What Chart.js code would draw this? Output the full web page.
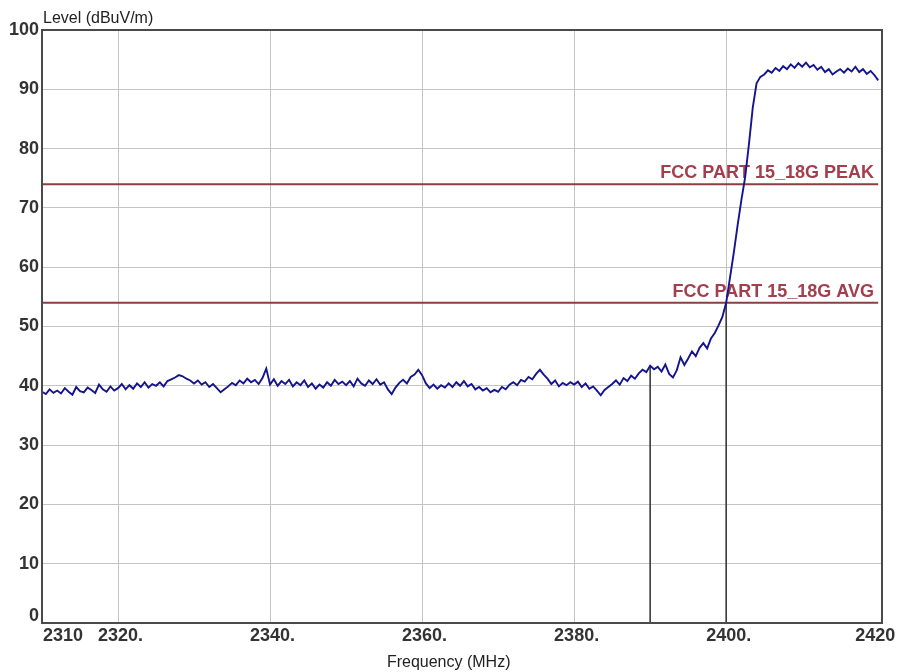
<!DOCTYPE html>
<html>
<head>
<meta charset="utf-8">
<script src="https://cdn.jsdelivr.net/npm/chart.js@4/dist/chart.umd.min.js"></script>
<style>
html,body{margin:0;padding:0;background:#fff;}
#c{display:block;}
</style>
</head>
<body>
<canvas id="c" width="898" height="672"></canvas>
<script>
// ---- data ----
const freqStart = 2310;
const freqStep = 0.5;
const levels = [
  // 2310 - 2319.5
  39.0, 38.6, 39.4, 38.8, 39.2, 38.7, 39.6, 39.0, 38.5, 39.8, 39.1, 38.9, 39.7, 39.3, 38.8, 40.2, 39.4, 39.0, 39.9, 39.2,
  // 2320 - 2329.5
  39.6, 40.3, 39.4, 40.1, 39.5, 40.4, 39.8, 40.6, 39.7, 40.3, 40.0, 40.6, 39.9, 40.8, 41.1, 41.4, 41.8, 41.6, 41.2, 40.9,
  // 2330 - 2339.5
  40.4, 40.9, 40.2, 40.6, 39.8, 40.3, 39.6, 38.9, 39.4, 39.9, 40.5, 40.1, 40.9, 40.4, 41.2, 40.6, 41.0, 40.3, 41.3, 42.9,
  // 2340 - 2349.5
  40.2, 41.1, 40.0, 40.8, 40.3, 41.0, 39.9, 40.6, 40.1, 40.9, 39.8, 40.4, 39.5, 40.2, 39.7, 40.6, 40.0, 41.0, 40.3, 40.7,
  // 2350 - 2359.5
  40.1, 40.8, 39.9, 41.2, 40.4, 40.0, 40.9, 40.3, 41.1, 40.2, 40.6, 39.4, 38.6, 39.7, 40.5, 41.0, 40.4, 41.5, 41.9, 42.7,
  // 2360 - 2369.5
  41.8, 40.4, 39.6, 40.2, 39.5, 40.1, 39.7, 40.4, 39.8, 40.6, 40.0, 40.8, 39.9, 40.3, 39.4, 39.8, 39.2, 39.6, 38.9, 39.3,
  // 2370 - 2379.5
  39.0, 39.8, 39.4, 40.2, 40.6, 40.1, 41.0, 40.7, 41.5, 41.1, 42.0, 42.7, 41.9, 41.2, 40.3, 40.9, 39.9, 40.5, 40.1, 40.6,
  // 2380 - 2389.5
  40.2, 40.7, 39.8, 40.4, 39.5, 39.9, 39.2, 38.4, 39.3, 39.8, 40.3, 40.9, 40.2, 41.3, 40.8, 41.7, 41.2, 42.1, 42.7, 42.3,
  // 2390 - 2399.5
  43.4, 42.8, 43.2, 42.4, 43.6, 42.0, 41.4, 42.6, 44.8, 43.5, 44.6, 45.8, 45.0, 46.4, 47.2, 46.3, 48.0, 48.9, 50.2, 51.6,
  // 2400 - 2409.5
  54.0, 58.2, 62.4, 67.0, 71.3, 75.2, 80.8, 86.9, 91.0, 92.1, 92.5, 93.2, 92.8, 93.6, 93.1, 93.9, 93.4, 94.2, 93.6, 94.4,
  // 2410 - 2419.5
  93.8, 94.5, 93.7, 94.1, 93.3, 93.8, 92.9, 93.4, 92.5, 93.0, 93.4, 92.8, 93.5, 93.0, 93.8, 92.9, 93.4, 92.6, 93.1, 92.4,
  // 2420
  91.5
];
const limitNames = ['FCC PART 15_18G PEAK', 'FCC PART 15_18G AVG'];
const limitLevels = [74, 54];
const markerFreqs = [2390, 2400];
const markerLevels = [43.4, 54.0];
const xTickValues = [2310, 2320, 2340, 2360, 2380, 2400, 2420];
const xTickLabels = ['2310', '2320.', '2340.', '2360.', '2380.', '2400.', '2420'];
const yTickValues = [0, 10, 20, 30, 40, 50, 60, 70, 80, 90, 100];
const xRange = [2310, 2420.5];
const yRange = [0, 100];
const xTitle = 'Frequency (MHz)';
const yTitle = 'Level (dBuV/m)';

// ---- datasets ----
const tracePoints = levels.map((v, i) => ({x: freqStart + i * freqStep, y: v}));
const datasets = [];
datasets.push({
  data: tracePoints, borderColor: '#14148c', borderWidth: 1.9,
  pointRadius: 0, tension: 0, order: 1
});
limitLevels.forEach((lv) => {
  datasets.push({
    data: [{x: xRange[0], y: lv}, {x: 2420, y: lv}], borderColor: '#8a3f42',
    borderWidth: 2, pointRadius: 0, order: 2
  });
});
markerFreqs.forEach((f, i) => {
  datasets.push({
    data: [{x: f, y: 0}, {x: f, y: markerLevels[i]}], borderColor: '#3a3a3a',
    borderWidth: 1.6, pointRadius: 0, order: 3
  });
});

const FONT = 'bold 18px "Liberation Sans", Arial, sans-serif';
const TXT = '#333333';

const drawPlugin = {
  id: 'deco',
  beforeDatasetsDraw(chart) {
    const ctx = chart.ctx, ys = chart.scales.y;
    ctx.save();
    ctx.font = FONT;
    ctx.fillStyle = '#a33e4c';
    ctx.textAlign = 'right';
    ctx.textBaseline = 'alphabetic';
    limitLevels.forEach((lv, i) => {
      ctx.fillText(limitNames[i], chart.chartArea.right - 8, ys.getPixelForValue(lv) - 6);
    });
    ctx.restore();
  },
  afterDraw(chart) {
    const ctx = chart.ctx, xs = chart.scales.x, ys = chart.scales.y, ca = chart.chartArea;
    ctx.save();
    // frame
    ctx.strokeStyle = '#4a4a4a';
    ctx.lineWidth = 2;
    ctx.strokeRect(ca.left, ca.top, ca.right - ca.left, ca.bottom - ca.top);
    // y tick labels
    ctx.font = FONT;
    ctx.fillStyle = TXT;
    ctx.textAlign = 'right';
    ctx.textBaseline = 'middle';
    yTickValues.forEach(v => {
      let y = ys.getPixelForValue(v);
      if (v === 0) y -= 7;
      ctx.fillText(String(v), ca.left - 3, y);
    });
    // x tick labels
    ctx.textBaseline = 'top';
    xTickValues.forEach((v, i) => {
      const x = xs.getPixelForValue(v);
      const lab = xTickLabels[i];
      if (i === 0) { ctx.textAlign = 'left'; ctx.fillText(lab, x + 1, ca.bottom + 4); }
      else if (lab.endsWith('.')) {
        ctx.textAlign = 'left';
        const w = ctx.measureText(lab.slice(0, -1)).width;
        ctx.fillText(lab, x - w / 2, ca.bottom + 4);
      } else { ctx.textAlign = 'center'; ctx.fillText(lab, x - 3, ca.bottom + 4); }
    });
    // titles
    ctx.font = '16px "Liberation Sans", Arial, sans-serif';
    ctx.fillStyle = '#222222';
    ctx.textAlign = 'center';
    ctx.textBaseline = 'bottom';
    ctx.fillText(xTitle, xs.getPixelForValue(2363.5), 671);
    ctx.textAlign = 'left';
    ctx.textBaseline = 'bottom';
    ctx.fillText(yTitle, ca.left + 1, ca.top - 3);
    ctx.restore();
  }
};

new Chart(document.getElementById('c'), {
  type: 'scatter',
  data: {datasets},
  options: {
    responsive: false,
    animation: false,
    showLine: true,
    layout: {padding: {left: 42, top: 30, right: 16, bottom: 49}},
    plugins: {legend: {display: false}, tooltip: {enabled: false}},
    scales: {
      x: {
        type: 'linear', min: xRange[0], max: xRange[1],
        afterBuildTicks: s => { s.ticks = xTickValues.map(v => ({value: v})); },
        ticks: {display: false},
        grid: {
          color: c => (c.tick && (c.tick.value === 2310 || c.tick.value === 2420)) ? 'rgba(0,0,0,0)' : '#c4c4c4',
          lineWidth: 1, drawTicks: false
        },
        border: {display: false}
      },
      y: {
        type: 'linear', min: yRange[0], max: yRange[1],
        afterBuildTicks: s => { s.ticks = yTickValues.map(v => ({value: v})); },
        ticks: {display: false},
        grid: {color: '#c4c4c4', lineWidth: 1, drawTicks: false},
        border: {display: false}
      }
    }
  },
  plugins: [drawPlugin]
});
</script>
</body>
</html>
